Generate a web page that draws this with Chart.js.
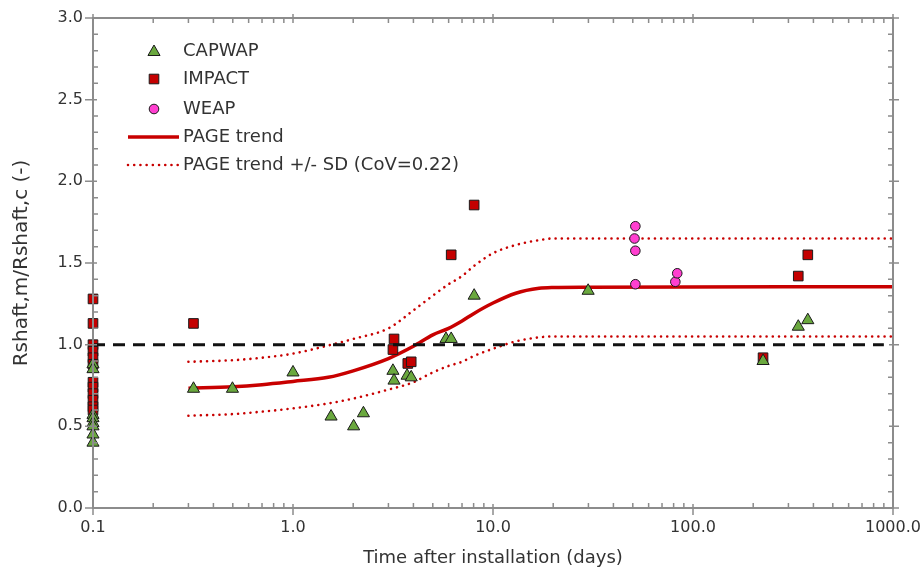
<!DOCTYPE html>
<html><head><meta charset="utf-8">
<script src="https://cdn.jsdelivr.net/npm/chart.js@4.4.1/dist/chart.umd.min.js"></script>
<style>html,body{margin:0;padding:0;background:#fff}#wrap{width:922px;height:575px;position:relative}</style>
</head><body><div id="wrap"><canvas id="c"></canvas></div>
<script>
// ---- data ----
const capwapX = [0.1,0.1,0.1,0.1,0.1,0.1,0.1,0.1, 0.318,0.498,1.0,1.55,2.01,2.25,3.16,3.2,3.72,3.9,5.82,6.18,8.05,29.9,224,336,375];
const capwapY = [0.88,0.85,0.57,0.55,0.52,0.50,0.45,0.40, 0.73,0.73,0.83,0.56,0.50,0.58,0.84,0.78,0.81,0.80,1.035,1.035,1.30,1.33,0.90,1.11,1.15];
const impactX = [0.1,0.1,0.1,0.1,0.1,0.1,0.1,0.1,0.1,0.1,0.1,0.1, 0.318,3.16,3.2,3.75,3.9,6.18,8.05,224,336,375];
const impactY = [1.28,1.13,1.00,0.96,0.92,0.88,0.77,0.74,0.70,0.66,0.62,0.60, 1.13,0.97,1.035,0.885,0.895,1.55,1.855,0.92,1.42,1.55];
const weapX = [51.5,51,51.5,51.5,81.6,83.4];
const weapY = [1.725,1.65,1.575,1.37,1.385,1.437];
const trendX = [0.3,0.5,0.7,1.0,1.5,2,3,4,5,6,7,8,10,13,17,20,30,1000];
const trendY = [0.733,0.742,0.755,0.775,0.80,0.84,0.915,0.99,1.06,1.10,1.145,1.19,1.255,1.315,1.345,1.35,1.352,1.355];
const upperY = [0.895,0.905,0.92,0.945,0.995,1.035,1.10,1.21,1.30,1.37,1.42,1.48,1.56,1.61,1.64,1.65,1.65,1.65];
const lowerY = [0.565,0.575,0.59,0.61,0.64,0.67,0.725,0.77,0.83,0.87,0.895,0.93,0.975,1.02,1.045,1.05,1.05,1.05];
const refX = [0.1, 900];
const refY = [1.0, 1.0];
const xTickValues = [0.1,1,10,100,1000];
const xTickLabels = ['0.1','1.0','10.0','100.0','1000.0'];
const yTickValues = [0,0.5,1,1.5,2,2.5,3];
const yTickLabels = ['0.0','0.5','1.0','1.5','2.0','2.5','3.0'];
const seriesNames = ['CAPWAP','IMPACT','WEAP','PAGE trend','PAGE trend +/- SD (CoV=0.22)'];

function pts(xs, ys){ return xs.map((x,i)=>({x:x, y:ys[i]})); }

const FONT = 'DejaVu Sans';
const AXIS = '#8c8c8c';
const TEXT = '#333333';
const GREEN = '#6aa83e', RED = '#c40000', PINK = '#ff3fd0', EDGE = '#1a1a1a';
const LINE_RED = '#c80000';

const frame = {
  id: 'frame',
  afterDraw(chart){
    const {ctx, chartArea:a, scales:{x, y}} = chart;
    ctx.save();
    ctx.strokeStyle = AXIS;
    ctx.lineWidth = 2;
    ctx.strokeRect(a.left, a.top, a.right - a.left, a.bottom - a.top);
    ctx.lineWidth = 1.5;
    ctx.beginPath();
    for (let d = -1; d <= 3; d++){
      for (let m = 1; m <= 9; m++){
        const v = m * Math.pow(10, d);
        if (v > 1000.0001) continue;
        const px = x.getPixelForValue(v);
        if (m === 1){
          ctx.moveTo(px, a.bottom + 7); ctx.lineTo(px, a.bottom - 4);
          ctx.moveTo(px, a.top - 4); ctx.lineTo(px, a.top + 5);
        } else {
          ctx.moveTo(px, a.bottom); ctx.lineTo(px, a.bottom - 5);
          ctx.moveTo(px, a.top); ctx.lineTo(px, a.top + 5);
        }
      }
    }
    for (let k = 0; k <= 30; k++){
      const v = k / 10;
      const py = y.getPixelForValue(v);
      if (k % 5 === 0){
        ctx.moveTo(a.left - 8, py); ctx.lineTo(a.left + 4, py);
        ctx.moveTo(a.right - 4, py); ctx.lineTo(a.right + 6, py);
      } else {
        ctx.moveTo(a.left, py); ctx.lineTo(a.left + 5, py);
        ctx.moveTo(a.right, py); ctx.lineTo(a.right - 5, py);
      }
    }
    ctx.stroke();

    // legend
    const mx = a.left + 61, tx = a.left + 90;
    const rows = [a.top + 33, a.top + 61, a.top + 91, a.top + 119, a.top + 147];
    ctx.lineWidth = 1;
    ctx.strokeStyle = EDGE;
    let r = 7, cy = rows[0] + 1;
    ctx.beginPath();
    ctx.moveTo(mx, cy - r);
    ctx.lineTo(mx + r * Math.sin(2*Math.PI/3), cy - r * Math.cos(2*Math.PI/3));
    ctx.lineTo(mx + r * Math.sin(4*Math.PI/3), cy - r * Math.cos(4*Math.PI/3));
    ctx.closePath();
    ctx.fillStyle = GREEN; ctx.fill(); ctx.stroke();
    const s = 6.8 * Math.SQRT1_2;
    ctx.beginPath(); ctx.rect(mx - s, rows[1] - s, 2*s, 2*s);
    ctx.fillStyle = RED; ctx.fill(); ctx.stroke();
    ctx.beginPath(); ctx.arc(mx, rows[2], 4.8, 0, Math.PI*2);
    ctx.fillStyle = PINK; ctx.fill(); ctx.stroke();
    ctx.strokeStyle = LINE_RED; ctx.lineWidth = 3.5;
    ctx.beginPath(); ctx.moveTo(mx - 26, rows[3]); ctx.lineTo(mx + 25, rows[3]); ctx.stroke();
    ctx.lineWidth = 2.6; ctx.lineCap = 'round'; ctx.setLineDash([0.01, 6.2]);
    ctx.beginPath(); ctx.moveTo(mx - 26, rows[4]); ctx.lineTo(mx + 24, rows[4]); ctx.stroke();
    ctx.setLineDash([]);
    ctx.fillStyle = TEXT;
    ctx.font = '18px "' + FONT + '"';
    ctx.textBaseline = 'middle';
    ctx.textAlign = 'left';
    seriesNames.forEach((n, i) => ctx.fillText(n, tx, rows[i]));
    ctx.restore();
  }
};

new Chart(document.getElementById('c'), {
  type: 'scatter',
  data: {
    datasets: [
      { label: seriesNames[4] + ' upper', data: pts(trendX, upperY), showLine: true, pointRadius: 0,
        borderColor: LINE_RED, borderWidth: 2.6, borderDash: [0.01, 6.2], borderCapStyle: 'round',
        cubicInterpolationMode: 'monotone', order: 6 },
      { label: seriesNames[4] + ' lower', data: pts(trendX, lowerY), showLine: true, pointRadius: 0,
        borderColor: LINE_RED, borderWidth: 2.6, borderDash: [0.01, 6.2], borderCapStyle: 'round',
        cubicInterpolationMode: 'monotone', order: 6 },
      { label: seriesNames[3], data: pts(trendX, trendY), showLine: true, pointRadius: 0,
        borderColor: LINE_RED, borderWidth: 3.5, cubicInterpolationMode: 'monotone', order: 5 },
      { label: 'ref', data: pts(refX, refY), showLine: true, pointRadius: 0, clip: false,
        borderColor: '#111', borderWidth: 3, borderDash: [12, 8], order: 1 },
      { label: seriesNames[2], data: pts(weapX, weapY), pointStyle: 'circle', pointRadius: 4.8, clip: false,
        backgroundColor: PINK, borderColor: EDGE, borderWidth: 1, order: 4 },
      { label: seriesNames[1], data: pts(impactX, impactY), pointStyle: 'rect', pointRadius: 6.8, clip: false,
        backgroundColor: RED, borderColor: EDGE, borderWidth: 1, order: 3 },
      { label: seriesNames[0], data: pts(capwapX, capwapY), pointStyle: 'triangle', pointRadius: 7, clip: false,
        backgroundColor: GREEN, borderColor: EDGE, borderWidth: 1, order: 2 }
    ]
  },
  options: {
    responsive: true, maintainAspectRatio: false, animation: false,
    layout: { padding: { top: 18, right: 29, left: 0, bottom: 0 } },
    plugins: { legend: { display: false }, tooltip: { enabled: false } },
    scales: {
      x: {
        type: 'logarithmic', min: 0.1, max: 1000,
        grid: { display: false, drawTicks: false, tickLength: 0 },
        border: { display: false },
        afterBuildTicks: s => { s.ticks = xTickValues.map(v => ({ value: v })); },
        afterFit: s => { s.height = 67; s.paddingRight = 0; s.paddingLeft = 0; },
        ticks: { autoSkip: false, maxRotation: 0, padding: 10, color: TEXT,
          font: { family: FONT, size: 16 },
          callback: (v) => { const i = xTickValues.findIndex(t => Math.abs(t - v) < 1e-9); return i >= 0 ? xTickLabels[i] : ''; } },
        title: { display: true, text: 'Time after installation (days)', color: TEXT,
          font: { family: FONT, size: 18 }, padding: { top: 0, bottom: 6 } }
      },
      y: {
        type: 'linear', min: 0, max: 3,
        grid: { display: false, drawTicks: false, tickLength: 0 },
        border: { display: false },
        afterBuildTicks: s => { s.ticks = yTickValues.map(v => ({ value: v })); },
        afterFit: s => { s.width = 93; s.paddingTop = 0; s.paddingBottom = 0; },
        ticks: { padding: 10, color: TEXT, font: { family: FONT, size: 16 },
          callback: (v) => { const i = yTickValues.findIndex(t => Math.abs(t - v) < 1e-9); return i >= 0 ? yTickLabels[i] : ''; } },
        title: { display: true, text: 'Rshaft,m/Rshaft,c (-)', color: TEXT,
          font: { family: FONT, size: 20 }, padding: { top: 10, bottom: 0 } }
      }
    }
  },
  plugins: [frame]
});
</script>
</body></html>
